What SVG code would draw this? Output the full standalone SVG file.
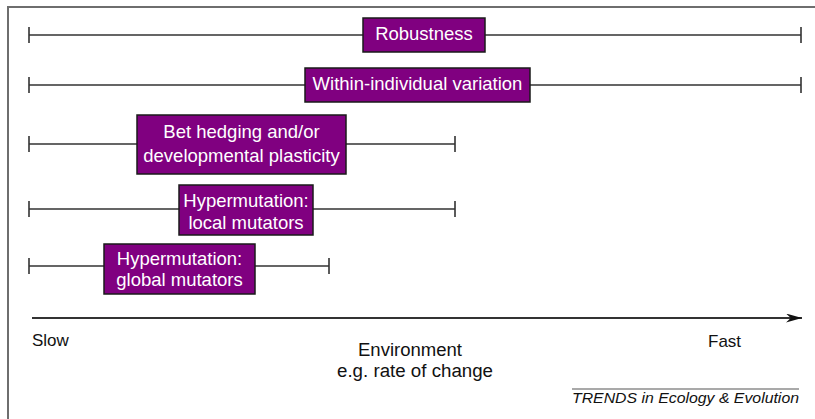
<svg xmlns="http://www.w3.org/2000/svg" width="815" height="419" viewBox="0 0 815 419">
  <defs>
    <style>
      .frame { fill: none; stroke: #6e6e6e; stroke-width: 2; }
      .bar { fill: none; stroke: #333; stroke-width: 1.6; }
      .box { fill: #800080; stroke: #1a1a1a; stroke-width: 1.5; }
      .lbl { font-family: "Liberation Sans", Arial, sans-serif; font-size: 18.5px; fill: #fff; text-anchor: middle; }
      .axis { font-family: "Liberation Sans", Arial, sans-serif; font-size: 17px; fill: #111; }
      .credit { font-family: "Liberation Sans", Arial, sans-serif; font-size: 15px; font-style: italic; fill: #111; }
    </style>
    <marker id="arrow" viewBox="0 0 10 10" refX="10" refY="5" markerWidth="16" markerHeight="9" markerUnits="userSpaceOnUse" orient="auto" preserveAspectRatio="none">
      <path d="M0,0 L10,5 L0,10 L3,5 Z" fill="#111"/>
    </marker>
  </defs>
  <rect width="815" height="419" fill="#fff"/>

  <!-- outer frame: left and top edges -->
  <path class="frame" d="M8,419 V7 H815"/>

  <!-- range bars -->
  <g id="connectors">
    <path class="bar" d="M29,35 H801 M29,27 V43 M801,27 V43"/>
    <path class="bar" d="M29,85 H801 M29,77 V93 M801,77 V93"/>
    <path class="bar" d="M29,144 H455 M29,136 V152 M455,136 V152"/>
    <path class="bar" d="M29,209 H455 M29,201 V217 M455,201 V217"/>
    <path class="bar" d="M29,266 H329 M29,258 V274 M329,258 V274"/>
    <!-- environment axis -->
    <path d="M32,318 H802" stroke="#333" stroke-width="1.8" marker-end="url(#arrow)"/>
  </g>

  <g id="robustness">
    <rect class="box" x="363" y="18" width="122" height="34"/>
    <text class="lbl" x="424" y="40">Robustness</text>
  </g>

  <g id="within-individual">
    <rect class="box" x="305" y="68" width="225" height="34"/>
    <text class="lbl" x="417.5" y="90">Within-individual variation</text>
  </g>

  <g id="bet-hedging">
    <rect class="box" x="137" y="115" width="209" height="59"/>
    <text class="lbl" x="241.5" y="138">Bet hedging and/or</text>
    <text class="lbl" x="241.5" y="162">developmental plasticity</text>
  </g>

  <g id="local-mutators">
    <rect class="box" x="179" y="185" width="134" height="50"/>
    <text class="lbl" x="246" y="207">Hypermutation:</text>
    <text class="lbl" x="246" y="229">local mutators</text>
  </g>

  <g id="global-mutators">
    <rect class="box" x="104" y="244" width="151" height="50"/>
    <text class="lbl" x="179.5" y="265">Hypermutation:</text>
    <text class="lbl" x="179.5" y="286">global mutators</text>
  </g>

  <g id="axis-labels">
    <text class="axis" x="32" y="346">Slow</text>
    <text class="axis" x="708" y="347">Fast</text>
    <text class="axis" x="358" y="356" textLength="104" lengthAdjust="spacingAndGlyphs" style="font-size:18px">Environment</text>
    <text class="axis" x="337" y="377" textLength="156" lengthAdjust="spacingAndGlyphs" style="font-size:18px">e.g. rate of change</text>
  </g>

  <g id="credit">
    <path d="M572,389 H799" stroke="#555" stroke-width="1.2"/>
    <text class="credit" x="572" y="403" textLength="227" lengthAdjust="spacingAndGlyphs">TRENDS in Ecology &amp; Evolution</text>
  </g>
</svg>
